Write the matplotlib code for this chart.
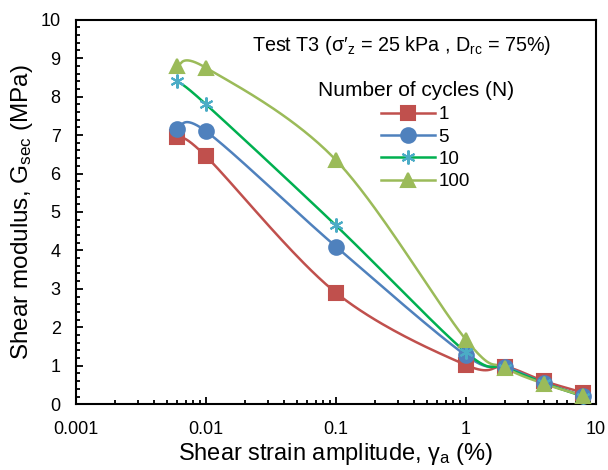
import numpy as np
import matplotlib
matplotlib.use("Agg")
import matplotlib.pyplot as plt
from matplotlib.lines import Line2D

plt.rcParams['font.family'] = ['Liberation Sans', 'DejaVu Sans']
plt.rcParams['mathtext.fontset'] = 'custom'
plt.rcParams['mathtext.rm'] = 'Liberation Sans'
plt.rcParams['mathtext.it'] = 'Liberation Sans:italic'

# data
strain = [0.006, 0.01, 0.1, 1, 2, 4, 8]
g_n1 = [6.95, 6.45, 2.9, 1.02, 0.98, 0.6, 0.3]
g_n5 = [7.15, 7.1, 4.1, 1.27, 0.98, 0.55, 0.22]
g_n10 = [8.4, 7.8, 4.65, 1.35, 0.95, 0.55, 0.2]
g_n100 = [8.8, 8.75, 6.35, 1.68, 0.95, 0.53, 0.22]
labels = ['1', '5', '10', '100']


def smooth(xs, ys, n=40):
    # Catmull-Rom style bezier in screen-like units (log x), like Excel smoothing
    u = np.log10(xs) * 130.0
    v = np.array(ys) * 38.5
    P = np.column_stack([u, v])
    P = np.vstack([P[0], P, P[-1]])
    out = []
    t = np.linspace(0, 1, n)[:, None]
    for i in range(1, len(P) - 2):
        p0, p1, p2, p3 = P[i - 1], P[i], P[i + 1], P[i + 2]
        b1 = p1 + (p2 - p0) / 6.0
        b2 = p2 - (p3 - p1) / 6.0
        seg = (1 - t) ** 3 * p1 + 3 * (1 - t) ** 2 * t * b1 + 3 * (1 - t) * t ** 2 * b2 + t ** 3 * p2
        out.append(seg)
    out = np.vstack(out)
    return 10 ** (out[:, 0] / 130.0), out[:, 1] / 38.5


fig = plt.figure(figsize=(6.08, 4.70), dpi=100)
ax = fig.add_axes([0.125, 0.14, 0.855, 0.818])

series = [
    (g_n1, '#C0504D', '#C0504D', 's', 9.5),
    (g_n5, '#4F81BD', '#4F81BD', 'o', 10.5),
    (g_n10, '#00B050', '#4BACC6', (6, 2, 0), 10),
    (g_n100, '#9BBB59', '#9BBB59', '^', 10.5),
]
handles = []
for (vals, lc, mc, mk, ms), lab in zip(series, labels):
    sx, sy = smooth(strain, vals)
    ax.plot(sx, sy, color=lc, lw=1.8, zorder=2)
    ax.plot(strain, vals, ls='none', marker=mk, ms=ms, color=mc, mec=mc, mew=1.5, zorder=3)
    handles.append(Line2D([], [], color=lc, lw=1.8, marker=mk, ms=ms, mfc=mc, mec=mc, mew=1.5))

ax.set_xscale('log')
ax.set_xlim(0.001, 10)
ax.set_ylim(0, 10)
ax.set_yticks(np.arange(0, 11, 1))
ax.set_yticks(np.arange(0, 10.01, 0.2), minor=True)
ax.set_xticks([0.001, 0.01, 0.1, 1, 10])
ax.set_xticklabels(['0.001', '0.01', '0.1', '1', '10'])
ax.tick_params(which='both', direction='in', labelsize=13, width=1.3)
ax.tick_params(which='major', length=5)
ax.tick_params(which='minor', length=3)
ax.tick_params(axis='x', pad=12)
ax.tick_params(axis='y', pad=11)
for s in ax.spines.values():
    s.set_linewidth(1.5)

ax.set_xlabel('Shear strain amplitude, γ$_\\mathrm{a}$ (%)', fontsize=17, labelpad=2)
ax.set_ylabel('Shear modulus, G$_\\mathrm{sec}$ (MPa)', fontsize=17.5, labelpad=4)

ax.text(0.913, 0.932, "Test T3 (σ′$_\\mathrm{z}$ = 25 kPa , D$_\\mathrm{rc}$ = 75%)",
        transform=ax.transAxes, ha='right', va='center', fontsize=14.2)

# legend title and entries placed separately
fig.text(416 / 608, 1 - 90 / 470, 'Number of cycles (N)', ha='center', va='center', fontsize=15)
fig.legend(handles, labels, loc='upper left', bbox_to_anchor=(381 / 608, 1 - 106 / 470),
           bbox_transform=fig.transFigure, frameon=False, fontsize=13.5,
           handlelength=2.9, labelspacing=0.28, handletextpad=0.15,
           borderpad=0, borderaxespad=0)

fig.savefig('out.png', dpi=100)
